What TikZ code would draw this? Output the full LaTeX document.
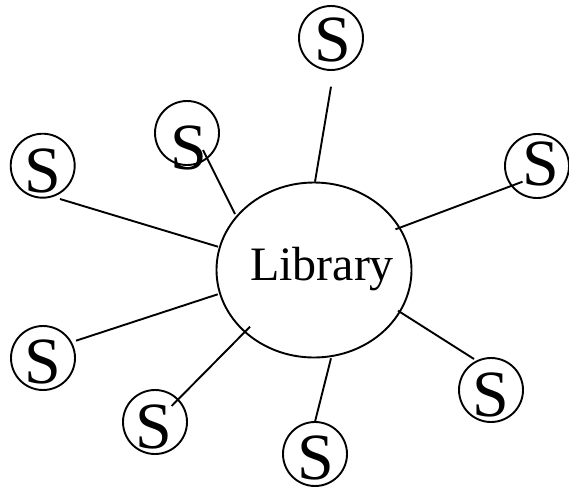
\documentclass[tikz,border=0pt]{standalone}
\usepackage{fontspec}
\setmainfont{Liberation Serif}
\usetikzlibrary{shapes.geometric}
\begin{document}
\begin{tikzpicture}[x=1pt,y=-1pt,
  hub/.style={draw, ellipse, line width=1.9pt, minimum width=195pt, minimum height=175pt, inner sep=0pt},
  site/.style={draw, circle, line width=1.9pt, minimum size=64pt, inner sep=0pt},
  sletter/.style={inner sep=0pt, font=\fontsize{66}{66}\selectfont},
  hubtext/.style={inner sep=0pt, anchor=base, font=\fontsize{48}{48}\selectfont},
  link/.style={line width=1.9pt}]
\useasboundingbox (0,0) rectangle (569,490);

% central library
\node[hub] (lib) at (314,270) {};
\node[hubtext] (libtext) at (322,280) {Library};

% surrounding sites
\node[site] (c1) at (331,38) {};
\node[site] (c2) at (187,133) {};
\node[site] (c3) at (42.7,165.7) {};
\node[site] (c4) at (537,166) {};
\node[site] (c5) at (43,358) {};
\node[site] (c6) at (155,422) {};
\node[site] (c7) at (491,390) {};
\node[site] (c8) at (315,454) {};

\node[sletter] (s1) at (332.5,40) {S};
\node[sletter] (s2) at (189,147.5) {S};
\node[sletter] (s3) at (43,170.5) {S};
\node[sletter] (s4) at (540.5,163.5) {S};
\node[sletter] (s5) at (42.8,362) {S};
\node[sletter] (s6) at (154,426.7) {S};
\node[sletter] (s7) at (491,395) {S};
\node[sletter] (s8) at (315.5,457.5) {S};

% connector end points
\coordinate (a1) at (331,86.7);   \coordinate (b1) at (315,181.7);
\coordinate (a2) at (203,150);    \coordinate (b2) at (235,214);
\coordinate (a3) at (60,199);     \coordinate (b3) at (218,246.7);
\coordinate (a4) at (522.5,181.7);\coordinate (b4) at (395.5,229.3);
\coordinate (a5) at (76,340.7);   \coordinate (b5) at (217.7,294.3);
\coordinate (a6) at (171.6,406);  \coordinate (b6) at (250,326.7);
\coordinate (a7) at (474,359);    \coordinate (b7) at (398,310.7);
\coordinate (a8) at (315,421.7);  \coordinate (b8) at (331,358.3);

\foreach \i in {1,...,8} {
  \draw[link] (a\i) -- (b\i);
}
\end{tikzpicture}
\end{document}
